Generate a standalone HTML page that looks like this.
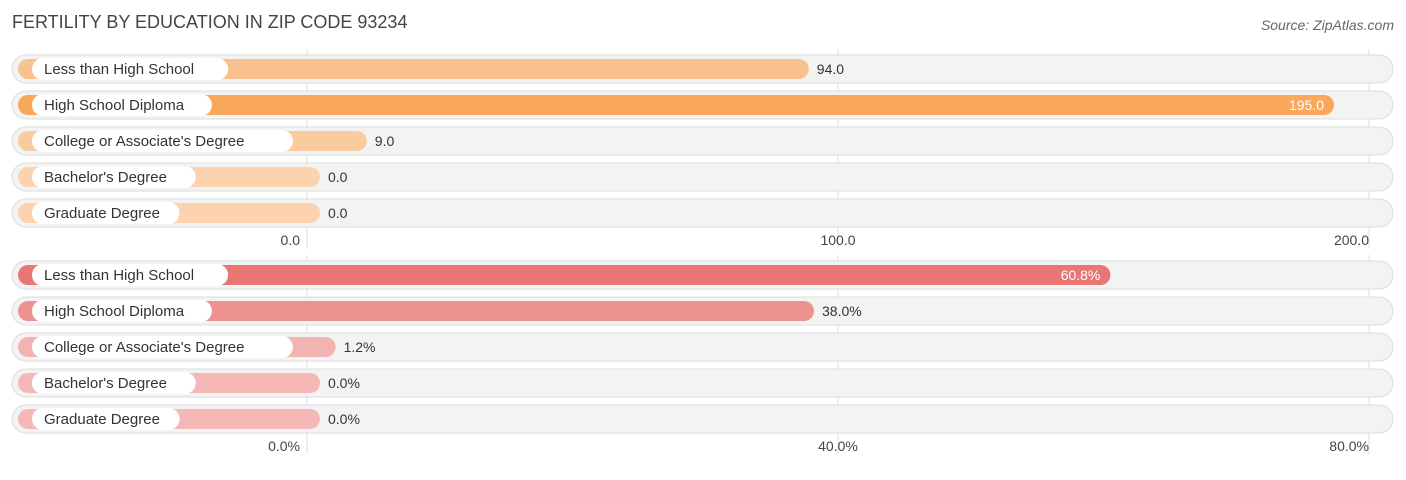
<!DOCTYPE html>
<html><head><meta charset="utf-8"><style>
body{margin:0;background:#fff;width:1406px;height:475px;overflow:hidden;font-family:"Liberation Sans",sans-serif}
text{font-family:"Liberation Sans",sans-serif}
</style></head><body>
<svg id="c" width="1406" height="475" xmlns="http://www.w3.org/2000/svg">
<text x="12" y="28" font-size="18" fill="#444">FERTILITY BY EDUCATION IN ZIP CODE 93234</text>
<text x="1394" y="30" font-size="14" fill="#666" font-style="italic" text-anchor="end">Source: ZipAtlas.com</text>
</svg>
<script>
const categories=["Less than High School","High School Diploma","College or Associate's Degree","Bachelor's Degree","Graduate Degree"];
const countValues=[94.0,195.0,9.0,0.0,0.0];
const pctValues=[60.8,38.0,1.2,0.0,0.0];
const countTicks=[0,100,200];
const pctTicks=[0,40,80];
const svg=document.getElementById('c');
const NS="http://www.w3.org/2000/svg";
function mk(t,a){const e=document.createElementNS(NS,t);for(const k in a)e.setAttribute(k,a[k]);svg.appendChild(e);return e;}
function panel(vals,ticks,maxV,rowY,axisY,colors,fmt,name){
  const x0=307,x1=1369;
  const sx=v=>x0+(v/maxV)*(x1-x0);
  const bx=v=>320+(v/maxV)*(1356-320)*1.0;
  ticks.forEach((t,i)=>{
    const g=mk('line',{x1:sx(t),x2:sx(t),y1:rowY[0]-20,y2:axisY+8,stroke:'#ddd','stroke-width':1});
    
    
  });
  vals.forEach((v,i)=>{
    const y=rowY[i];
    const tr=mk('rect',{x:12,y:y-14,width:1381,height:28,rx:14,fill:'#f3f3f3',stroke:'#ddd','stroke-width':1});
    
    
    const end=320+(v/maxV)*(1360-320)*(maxV===200?1:1)*(name==='count'?200/195*195/200:1);
    const w=Math.max(end,320)-18;
    const b=mk('rect',{x:18,y:y-10,width:w,height:20,rx:10,fill:colors[i]});
    
    
    const lw=categories[i].length*8.1+26;
    const p=mk('rect',{x:32,y:y-11,width:lw,height:22,rx:11,fill:'#fff'});
    
    
    const lt=mk('text',{x:44,y:y+5,'font-size':15,fill:'#333'});
    lt.textContent=categories[i];
    
    
    const inside=v/maxV>0.7;
    const vt=mk('text',{x:inside?end-10:Math.max(end,320)+8,y:y+5,'font-size':14,fill:inside?'#fff':'#333','text-anchor':inside?'end':'start'});
    vt.textContent=fmt(v);
    
    
  });
  ticks.forEach((t,i)=>{
    const anchor=i===0?'end':(i===ticks.length-1?'end':'middle');
    const x=i===0?x0-7:(i===ticks.length-1?x1:sx(t));
    const tt=mk('text',{x:x,y:axisY+5,'font-size':14,fill:'#444','text-anchor':anchor});
    tt.textContent=fmt(t);
    
    
  });
}
// bar end mapping: value 0 -> 320, max axis -> ~1385
panel(countValues,countTicks,200,[69,105,141,177,213],240,['#f9c18e','#f9a75b','#fbcba0','#fcd3ae','#fcd3ae'],v=>v.toFixed(1),'count');
panel(pctValues,pctTicks,80,[275,311,347,383,419],446,['#e87673','#ee928f','#f3b3b1','#f4b9b7','#f4b9b7'],v=>v.toFixed(1)+'%','pct');
</script>
</body></html>
